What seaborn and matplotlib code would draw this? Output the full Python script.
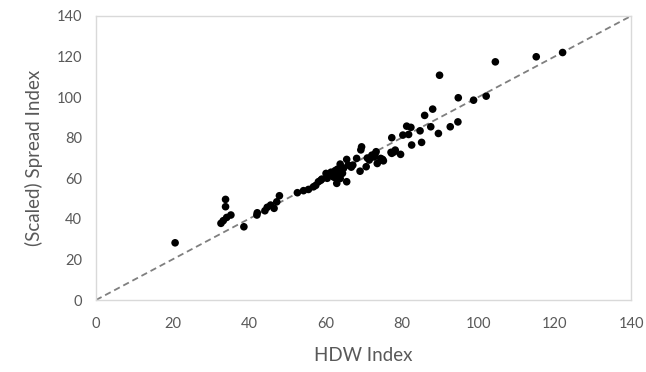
import numpy as np
import pandas as pd
import matplotlib
matplotlib.use("Agg")
import matplotlib.pyplot as plt
import seaborn as sns

hdw_index = [
    20.7, 33.9, 33.9, 32.7, 33.3, 34.2, 35.3, 38.7, 42.1, 42.2,
    44.2, 44.8, 45.7, 46.6, 47.3, 48.0, 52.7, 54.3, 55.6, 56.9,
    58.2, 59.1, 60.2, 61.0, 62.6, 63.0, 63.9, 64.3, 63.9, 65.6,
    65.6, 67.2, 68.2, 69.1, 69.5, 69.3, 70.7, 72.2, 73.3, 73.6,
    74.5, 75.2, 77.4, 78.0, 77.4, 75.0, 77.2, 78.3, 79.7, 80.3,
    81.3, 82.4, 81.8, 82.6, 84.8, 85.2, 86.0, 87.6, 88.1, 89.6,
    92.7, 94.7, 94.8, 98.8, 89.9, 102.1, 104.5, 115.2, 122.1, 60.5,
    61.5, 62.0, 63.2, 64.8, 66.0, 66.8, 71.5, 72.8, 58.8, 57.5,
    62.3, 63.5, 64.5, 71.0, 73.0,
]
spread_index = [
    28.2, 49.6, 46.0, 37.8, 39.1, 40.7, 41.9, 36.1, 41.9, 43.0,
    44.0, 45.7, 46.8, 45.2, 48.4, 51.4, 52.9, 53.9, 54.5, 55.8,
    58.3, 59.6, 62.4, 61.5, 63.8, 57.5, 67.0, 62.4, 59.9, 58.3,
    69.3, 66.5, 69.8, 63.5, 75.5, 74.0, 65.7, 71.4, 73.1, 67.3,
    69.8, 68.6, 72.3, 73.0, 80.0, 69.3, 72.8, 73.9, 71.8, 81.3,
    85.7, 85.1, 81.6, 76.4, 83.4, 77.7, 91.0, 85.4, 94.1, 82.1,
    85.4, 87.8, 99.7, 98.5, 110.8, 100.5, 117.4, 119.9, 122.0, 60.0,
    63.0, 61.0, 64.5, 65.0, 66.5, 65.5, 69.0, 70.5, 59.0, 56.5,
    60.5, 61.0, 62.5, 70.0, 72.0,
]
line_vals = [0, 140]

df = pd.DataFrame({"HDW Index": hdw_index, "Spread Index": spread_index})

sns.set_style("white")
plt.rcParams["font.family"] = ["Lato", "DejaVu Sans"]

fig = plt.figure(figsize=(6.46, 3.72), dpi=100)
ax = fig.add_axes([0.1486, 0.1935, 0.8282, 0.7635])

ax.plot(line_vals, line_vals, color="#7f7f7f", lw=1.3, ls=(0, (3.5, 2.2)), zorder=1)
sns.scatterplot(data=df, x="HDW Index", y="Spread Index", color="black",
                s=30, edgecolor="none", ax=ax, zorder=2)

ax.set_xlim(0, 140)
ax.set_ylim(0, 140)
ax.set_xticks(range(0, 141, 20))
ax.set_yticks(range(0, 141, 20))
ax.tick_params(axis="x", length=0, labelsize=10.5, colors="#595959", pad=12)
ax.tick_params(axis="y", length=0, labelsize=10.5, colors="#595959", pad=10)
for s in ax.spines.values():
    s.set_color("#d9d9d9")
    s.set_linewidth(1.0)

ax.set_xlabel("HDW Index", fontsize=13.5, color="#595959", labelpad=12)
ax.set_ylabel("(Scaled) Spread Index", fontsize=13.5, color="#595959", labelpad=10)

fig.savefig("out.png", dpi=100)
